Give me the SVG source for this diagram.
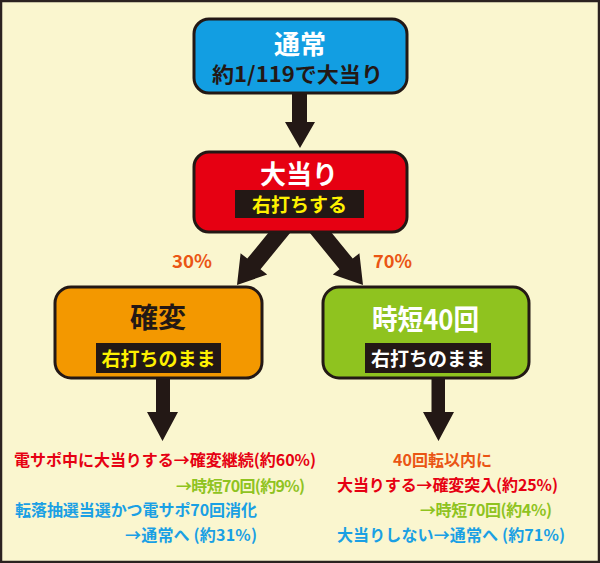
<svg xmlns="http://www.w3.org/2000/svg" width="600" height="563" viewBox="0 0 600 563">
<style>
text{font-family:"Noto Sans CJK JP","Noto Sans",sans-serif;font-weight:bold}
.box{stroke:#231815;stroke-width:3}
.arrow{fill:#231815}
.inset{fill:#231815}
.t{text-anchor:middle}
.pct{fill:#ea5514;font-size:18px}
.red{fill:#e60012}
.grn{fill:#8fc31f}
.blu{fill:#1aa0e4}
.org{fill:#ea5514}
.note{font-size:16px}
</style>
<rect x="1" y="1" width="598" height="561" fill="#faf6cf" stroke="#2b2220" stroke-width="2.5"/>
<g id="connectors">
<path class="arrow" d="M292,88 H307 V122 H315 L300,148 L285,122 H292 Z"/>
<path class="arrow" d="M282.1,216 L295.4,226.6 L260.5,269.2 L267.2,274.5 L237,285 L240.6,253.3 L247.3,258.6 Z"/>
<path class="arrow" d="M317.9,216 L304.6,226.6 L339.5,269.2 L332.8,274.5 L363,285 L359.4,253.3 L352.7,258.6 Z"/>
<path class="arrow" d="M156,372 H170 V412 H178 L162.5,441 L147,412 H156 Z"/>
<path class="arrow" d="M431.5,372 H445 V412 H454 L438.5,441 L423,412 H431.5 Z"/>
</g>
<g id="node-normal">
<rect class="box" x="194" y="19" width="213" height="74" rx="15" fill="#129ee2"/>
<text class="t" x="300" y="54" font-size="26" fill="#ffffff">通常</text>
<text x="212" y="82" font-size="21" fill="#231815" textLength="171" lengthAdjust="spacingAndGlyphs">約1/119で大当り</text>
</g>
<g id="node-jackpot">
<rect class="box" x="194" y="152" width="213" height="80" rx="15" fill="#e60012"/>
<text class="t" x="299" y="184" font-size="26" fill="#ffffff">大当り</text>
<rect class="inset" x="235" y="190" width="129" height="28"/>
<text class="t" x="299.5" y="212" font-size="19" fill="#fff100">右打ちする</text>
</g>
<text class="pct" x="172" y="268" textLength="40" lengthAdjust="spacingAndGlyphs">30%</text>
<text class="pct" x="373" y="268" textLength="39" lengthAdjust="spacingAndGlyphs">70%</text>
<g id="node-kakuhen">
<rect class="box" x="55" y="287" width="207" height="91" rx="16" fill="#f39800"/>
<text class="t" x="158" y="328" font-size="28" fill="#231815">確変</text>
<rect class="inset" x="96" y="343" width="125" height="30"/>
<text class="t" x="158.5" y="366" font-size="19" fill="#fff100">右打ちのまま</text>
</g>
<g id="node-jitan">
<rect class="box" x="323" y="287" width="206" height="91" rx="16" fill="#8fc31f"/>
<text x="372" y="330" font-size="28" fill="#ffffff" textLength="107" lengthAdjust="spacingAndGlyphs">時短40回</text>
<rect class="inset" x="365" y="343" width="126" height="30"/>
<text class="t" x="428" y="366" font-size="19" fill="#ffffff">右打ちのまま</text>
</g>
<g id="notes-left" class="note">
<text class="red" x="14" y="466" textLength="302" lengthAdjust="spacing">電サポ中に大当りする→確変継続(約60%)</text>
<text class="grn" x="176" y="492" textLength="129" lengthAdjust="spacing">→時短70回(約9%)</text>
<text class="blu" x="15" y="516" textLength="242" lengthAdjust="spacing">転落抽選当選かつ電サポ70回消化</text>
<text class="blu" x="125" y="541" textLength="132" lengthAdjust="spacing">→通常へ (約31%)</text>
</g>
<g id="notes-right" class="note">
<text class="org" x="393" y="466" textLength="99" lengthAdjust="spacing">40回転以内に</text>
<text class="red" x="337" y="491" textLength="221" lengthAdjust="spacing">大当りする→確変突入(約25%)</text>
<text class="grn" x="420" y="516" textLength="132" lengthAdjust="spacing">→時短70回(約4%)</text>
<text class="blu" x="337" y="541" textLength="228" lengthAdjust="spacing">大当りしない→通常へ (約71%)</text>
</g>
</svg>
